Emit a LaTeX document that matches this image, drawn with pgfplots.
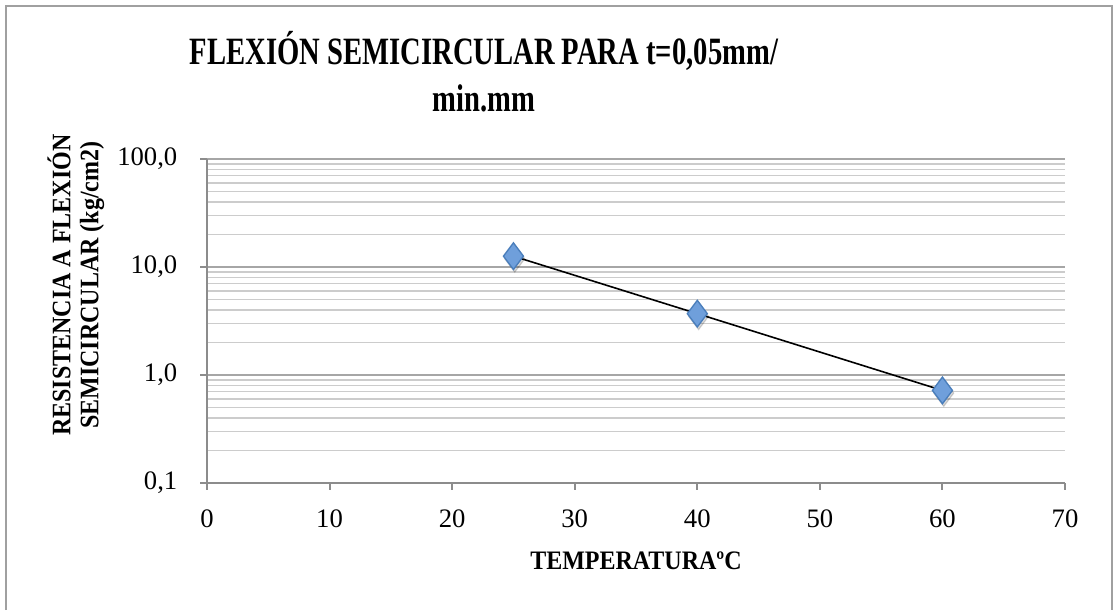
\documentclass[border=0pt]{standalone}
\usepackage{fontspec}
\setmainfont{Liberation Serif}
\newfontfamily\titlefont[FakeStretch=0.74]{Liberation Serif}
\newfontfamily\labelfont[FakeStretch=0.9]{Liberation Serif}
\usepackage{pgfplots}
\pgfplotsset{compat=1.18}

\definecolor{axisgray}{HTML}{8C8C8C}
\definecolor{bordergray}{HTML}{A0A0A0}
\definecolor{majgrid}{HTML}{A6A6A6}
\definecolor{mingrid}{HTML}{CCCCCC}
\definecolor{markfill}{HTML}{6F9FDB}
\definecolor{markedge}{HTML}{4A7EBB}

\begin{document}
\begin{tikzpicture}
\useasboundingbox (0pt,0pt) rectangle (417.75pt,-228.75pt);
% chart frame (bottom edge falls outside the picture)
\draw[color=bordergray, line width=0.75pt]
  (2.25pt,-228.75pt) -- (2.25pt,-2.25pt) -- (417pt,-2.25pt) -- (417pt,-228.75pt);

\node[font=\titlefont\bfseries\fontsize{14.5}{17.6}\selectfont, align=center]
  at (181.5pt,-27pt) {FLEXIÓN SEMICIRCULAR PARA t=0,05mm/\\min.mm};

\begin{axis}[
  at={(77.625pt,-181.125pt)}, anchor=south west,
  scale only axis, width=321.75pt, height=121.5pt,
  xmin=0, xmax=70, xtick={0,10,...,70},
  ymode=log, ymin=0.1, ymax=100,
  ytick={0.1,1,10,100},
  yticklabels={{0,1},{1,0},{10,0},{100,0}},
  axis x line*=bottom, axis y line*=left,
  xtick pos=lower, ytick pos=left,
  axis line style={-, draw=axisgray, line width=0.75pt},
  tick align=outside, major tick length=2.6pt, minor tick length=0pt,
  major tick style={draw=axisgray, line width=0.75pt},
  ymajorgrids, yminorgrids,
  major grid style={draw=majgrid, line width=0.5pt},
  minor grid style={draw=mingrid, line width=0.5pt},
  /pgf/number format/assume math mode=true,
  ticklabel style={font=\fontsize{10}{12}\selectfont},
  xticklabel shift=4pt, yticklabel shift=5pt,
  xlabel={TEMPERATURAºC},
  ylabel={RESISTENCIA A FLEXIÓN\\SEMICIRCULAR (kg/cm2)},
  xlabel style={at={(axis description cs:0.5,-0.2407)}, anchor=center,
    font=\labelfont\bfseries\fontsize{10}{12}\selectfont},
  ylabel style={at={(axis description cs:-0.1527,0.611)}, anchor=center,
    align=center, font=\labelfont\bfseries\fontsize{10}{10.5}\selectfont},
  clip=false,
]
% marker shadow
\addplot[only marks, mark=diamond*, mark size=5pt,
  mark options={fill=black, draw=none, opacity=0.15, xshift=0.5pt, yshift=-1pt}]
  coordinates {(25,12.6) (40,3.70) (60,0.72)};
% markers
\addplot[only marks, mark=diamond*, mark size=5pt,
  mark options={fill=markfill, draw=markedge, line width=0.5pt}]
  coordinates {(25,12.6) (40,3.70) (60,0.72)};
% connecting line drawn over the markers
\addplot[black, line width=0.6pt, no marks]
  coordinates {(25,12.6) (40,3.70) (60,0.72)};
\end{axis}
\end{tikzpicture}
\end{document}
